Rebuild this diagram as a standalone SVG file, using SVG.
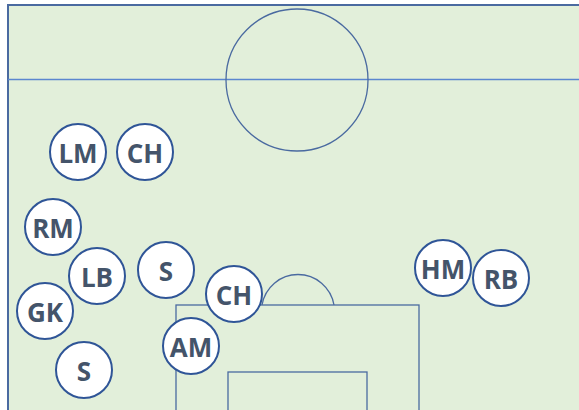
<svg xmlns="http://www.w3.org/2000/svg" width="579" height="410" viewBox="0 0 579 410">
<style>
.field{fill:#E2EFDA;stroke:#4A6AA0;stroke-width:2}
.line{fill:none;stroke:#4A6AA0;stroke-width:1.3}
.half{fill:none;stroke:#5B86CF;stroke-width:1.3}
.node circle{fill:#FFFFFF;stroke:#2F5597;stroke-width:2}
.node text{font-family:"Open Sans","DejaVu Sans",sans-serif;font-weight:bold;font-size:26px;fill:#44546A;text-anchor:middle}
</style>
<rect width="579" height="410" fill="#FFFFFF"/>
<g id="pitch">
<rect class="field" x="8" y="5" width="620" height="440"/>
<line class="half" x1="8" y1="79.5" x2="579" y2="79.5"/>
<circle class="line" cx="297" cy="80" r="71"/>
<rect class="line" x="176" y="305" width="243" height="120"/>
<rect class="line" x="228" y="372" width="139" height="60"/>
<path class="line" d="M 262 305 A 36.5 36.5 0 0 1 334 305"/>
</g>
<g id="connectors"></g>
<g id="n-lm" class="node"><circle cx="78" cy="152" r="28"/><text x="78" y="163">LM</text></g>
<g id="n-ch1" class="node"><circle cx="145" cy="152" r="28"/><text x="145" y="163">CH</text></g>
<g id="n-rm" class="node"><circle cx="53" cy="227" r="28"/><text x="53" y="238">RM</text></g>
<g id="n-lb" class="node"><circle cx="97" cy="276" r="28"/><text x="97" y="287">LB</text></g>
<g id="n-s1" class="node"><circle cx="166" cy="270" r="28"/><text x="166" y="281">S</text></g>
<g id="n-gk" class="node"><circle cx="45" cy="311" r="28"/><text x="45" y="322">GK</text></g>
<g id="n-s2" class="node"><circle cx="84" cy="370" r="28"/><text x="84" y="381">S</text></g>
<g id="n-ch2" class="node"><circle cx="234" cy="294" r="28"/><text x="234" y="305">CH</text></g>
<g id="n-am" class="node"><circle cx="191" cy="346" r="28"/><text x="191" y="357">AM</text></g>
<g id="n-hm" class="node"><circle cx="443" cy="268" r="28"/><text x="443" y="279">HM</text></g>
<g id="n-rb" class="node"><circle cx="501" cy="278" r="28"/><text x="501" y="289">RB</text></g>
</svg>
